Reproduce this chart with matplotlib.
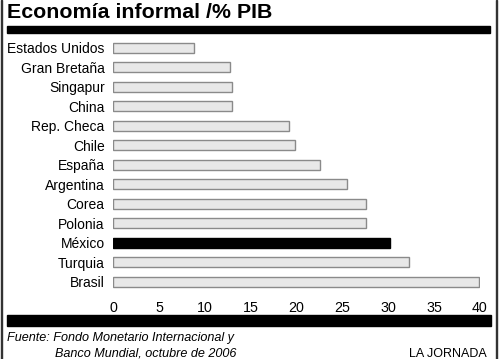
import matplotlib
matplotlib.use("Agg")
import matplotlib.pyplot as plt
from matplotlib.patches import Rectangle

countries = ["Estados Unidos", "Gran Bretaña", "Singapur", "China", "Rep. Checa",
             "Chile", "España", "Argentina", "Corea", "Polonia", "México",
             "Turquia", "Brasil"]
values = [8.8, 12.7, 13.0, 13.0, 19.2, 19.8, 22.6, 25.5, 27.6, 27.6, 30.2, 32.3, 39.9]
highlight = "México"
xticks = [0, 5, 10, 15, 20, 25, 30, 35, 40]

plt.rcParams['font.family'] = ['Liberation Sans', 'DejaVu Sans']

W, H = 500, 359
fig = plt.figure(figsize=(W/100, H/100), dpi=100)

def fx(px): return px / W
def fy(py): return 1 - py / H

ax = fig.add_axes([fx(113), fy(291.75), fx(480) - fx(113), fy(38) - fy(291.75)])
ypos = list(range(len(countries)))
colors = ["black" if c == highlight else "#e8e8e8" for c in countries]
edges = ["black" if c == highlight else "#8a8a8a" for c in countries]
ax.barh(ypos, values, height=0.51, color=colors, edgecolor=edges, linewidth=1.0)
ax.set_xlim(0, 40)
ax.set_ylim(len(countries) - 0.5, -0.5)
ax.set_yticks(ypos)
ax.set_yticklabels(countries, fontsize=10)
ax.set_xticks(xticks)
ax.set_xticklabels([str(t) for t in xticks], fontsize=10.3)
ax.tick_params(axis='both', length=0)
ax.tick_params(axis='y', pad=6)
ax.tick_params(axis='x', pad=7)
for s in ax.spines.values():
    s.set_visible(False)
ax.set_facecolor("none")

# title
fig.text(fx(7), fy(18.5), "Economía informal /% PIB", fontsize=15.4, fontweight='bold',
         ha='left', va='baseline')

# black bands
fig.patches.append(Rectangle((fx(7), fy(33)), fx(490) - fx(7), fy(26) - fy(33),
                             transform=fig.transFigure, color='black', zorder=5))
fig.patches.append(Rectangle((fx(7), fy(326)), fx(491) - fx(7), fy(315) - fy(326),
                             transform=fig.transFigure, color='black', zorder=5))
# side borders
fig.patches.append(Rectangle((fx(0.5), 0), fx(1.5), 1, transform=fig.transFigure,
                             color='#333333', zorder=5))
fig.patches.append(Rectangle((fx(495.5), 0), fx(1.5), 1, transform=fig.transFigure,
                             color='#333333', zorder=5))

# footer
fig.text(fx(7), fy(341), "Fuente: Fondo Monetario Internacional y", fontsize=9.1,
         style='italic', ha='left', va='baseline')
fig.text(fx(55), fy(357), "Banco Mundial, octubre de 2006", fontsize=9.1,
         style='italic', ha='left', va='baseline')
fig.text(fx(487), fy(357), "LA JORNADA", fontsize=9.0, ha='right', va='baseline')

fig.savefig("out.png", dpi=100)
